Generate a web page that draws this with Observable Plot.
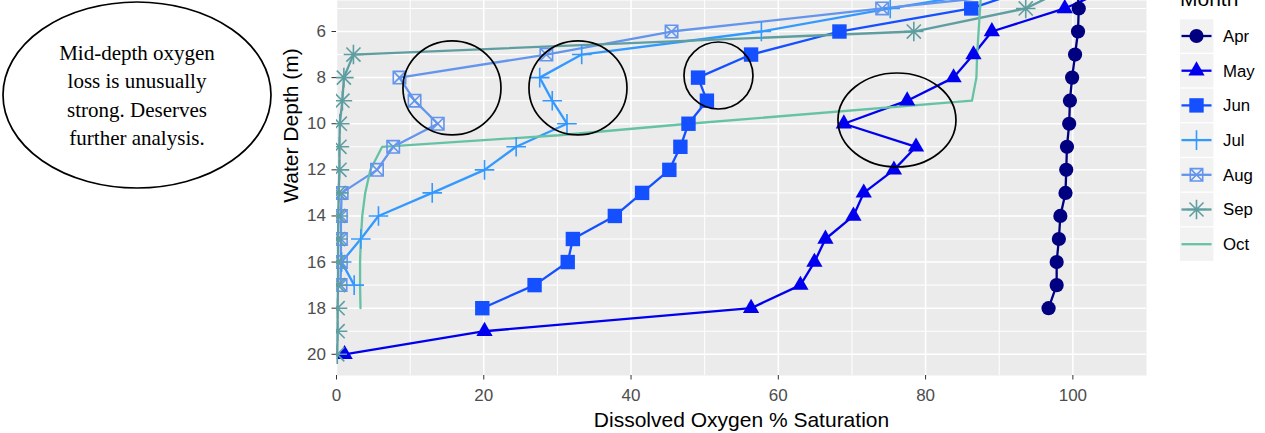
<!DOCTYPE html>
<html><head><meta charset="utf-8">
<script src="https://cdn.jsdelivr.net/npm/d3@7"></script>
<script src="https://cdn.jsdelivr.net/npm/@observablehq/plot@0.6"></script>
<style>body{margin:0;background:#fff}#chart svg{display:block}</style>
</head><body><div id="chart"></div>
<script>
// ---- data ----
const months = ["Apr","May","Jun","Jul","Aug","Sep","Oct"];
const monthColors = ["#000080","#0000EE","#1450FF","#3399FF","#6495ED","#5F9EA0","#66C2A5"];

const aprDepth = [4,5,6,7,8,9,10,11,12,13,14,15,16,17,18];
const aprDO    = [100.6,100.8,100.7,100.3,99.9,99.6,99.5,99.2,99.1,99.0,98.3,98.1,97.8,97.8,96.7];

const mayDepth = [4,5,6,7,8,9,10,11,12,13,14,15,16,17,18,19,20];
const mayDO    = [106,98.9,89.0,86.5,83.8,77.5,68.9,78.7,75.7,71.6,70.2,66.4,64.9,63.0,56.3,20.1,1.1];

const junDepth = [4,5,6,7,8,9,10,11,12,13,14,15,16,17,18];
const junDO    = [95.5,86.2,68.3,56.3,49.1,50.3,47.8,46.7,45.2,41.5,37.8,32.1,31.4,26.9,19.8];

const julDepth = [4,5,6,7,8,9,10,11,12,13,14,15,16,17];
const julDO    = [94,75.2,57.7,33.3,27.6,29.3,31.3,24.4,20.1,13.0,5.7,3.3,0.7,2.4];

const augDepth = [4,5,6,7,8,9,10,11,12,13,14,15,16,17];
const augDO    = [104,74.1,45.5,28.5,8.55,10.6,13.75,7.7,5.5,0.7,0.6,0.6,0.6,0.55];

const sepDepth = [4,5,6,7,8,9,10,11,12,13,14,15,16,17,18,19,20];
const sepDO    = [100,93.6,78.4,2.3,1.0,0.8,0.45,0.4,0.4,0.3,0.25,0.2,0.2,0.2,0.15,0.15,0.1];

const octDepth = [4,5,6,7,8,9,10,10.5,11,12,13,14,15,16,17,18];
const octDO    = [87.6,87.4,87.2,87.0,86.9,86.3,47.8,30.2,6.2,4.6,3.9,3.5,3.3,3.2,3.2,3.26];

const xTicks = [0,20,40,60,80,100];
const xMinor = [10,30,50,70,90];
const yTicks = [6,8,10,12,14,16,18,20];
const yMinor = [5,7,9,11,13,15,17,19];

const xTitle = "Dissolved Oxygen % Saturation";
const yTitle = "Water Depth (m)";
const legendTitle = "Month";
const noteLines = ["Mid-depth oxygen","loss is unusually","strong. Deserves","further analysis."];

// ---- table ----
const series = [
  {month:"Apr", depth:aprDepth, value:aprDO},
  {month:"May", depth:mayDepth, value:mayDO},
  {month:"Jun", depth:junDepth, value:junDO},
  {month:"Jul", depth:julDepth, value:julDO},
  {month:"Aug", depth:augDepth, value:augDO},
  {month:"Sep", depth:sepDepth, value:sepDO},
  {month:"Oct", depth:octDepth, value:octDO}
];
const rows = series.flatMap(s => s.depth.map((d,i) => ({month:s.month, depth:d, value:s.value[i]})));

// ---- R-like symbols (r = radius / half extent) ----
const rr = s => Math.sqrt(s/Math.PI);
const symCircle = {draw(c,s){const r=rr(s); c.moveTo(r,0); c.arc(0,0,r,0,2*Math.PI); c.closePath();}};
const symTri = {draw(c,s){const r=rr(s); c.moveTo(0,-r); c.lineTo(r*0.866,r*0.5); c.lineTo(-r*0.866,r*0.5); c.closePath();}};
const symSq = {draw(c,s){const r=rr(s); c.moveTo(-r,-r); c.lineTo(r,-r); c.lineTo(r,r); c.lineTo(-r,r); c.closePath();}};
const symPlus = {draw(c,s){const r=rr(s); c.moveTo(-r,0); c.lineTo(r,0); c.moveTo(0,-r); c.lineTo(0,r);}};
const symBoxX = {draw(c,s){const r=rr(s); c.moveTo(-r,-r); c.lineTo(r,-r); c.lineTo(r,r); c.lineTo(-r,r); c.closePath(); c.moveTo(-r,-r); c.lineTo(r,r); c.moveTo(r,-r); c.lineTo(-r,r);}};
const symAst = {draw(c,s){const r=rr(s), q=r*0.72; c.moveTo(-r,0); c.lineTo(r,0); c.moveTo(0,-r); c.lineTo(0,r); c.moveTo(-q,-q); c.lineTo(q,q); c.moveTo(q,-q); c.lineTo(-q,q);}};

const shapeSpec = {
  Apr:{symbol:symCircle, r:7.1, filled:true},
  May:{symbol:symTri, r:9.4, filled:true},
  Jun:{symbol:symSq, r:7.2, filled:true},
  Jul:{symbol:symPlus, r:9.8, filled:false},
  Aug:{symbol:symBoxX, r:6.2, filled:false},
  Sep:{symbol:symAst, r:9.8, filled:false}
};

const W = 1265, H = 433;
const mL = 336, mR = 119, mT = 0, mB = 58;

const dotMarks = Object.entries(shapeSpec).map(([m,sp]) => sp.filled
  ? Plot.dot(rows, {filter:d=>d.month===m, x:"value", y:"depth", symbol:sp.symbol, r:sp.r, fill:"month", stroke:"none", clip:true})
  : Plot.dot(rows, {filter:d=>d.month===m, x:"value", y:"depth", symbol:sp.symbol, r:sp.r, fill:"none", stroke:"month", strokeWidth:1.6, clip:true}));

const plot = Plot.plot({
  width: W, height: H,
  marginLeft: mL, marginRight: mR, marginTop: mT, marginBottom: mB,
  style: {fontFamily:"'Liberation Sans', Arial, sans-serif", fontSize:"17px", background:"#fff", overflow:"visible"},
  x: {domain:[0,110], label:null},
  y: {domain:[4.655,20.92], reverse:true, label:null},
  color: {domain:months, range:monthColors},
  marks: [
    Plot.frame({fill:"#EBEBEB", stroke:"none"}),
    Plot.ruleX(xMinor, {stroke:"#fff", strokeWidth:1}),
    Plot.ruleY(yMinor, {stroke:"#fff", strokeWidth:1}),
    Plot.ruleX(xTicks, {stroke:"#fff", strokeWidth:1.5}),
    Plot.ruleY(yTicks, {stroke:"#fff", strokeWidth:1.5}),
    Plot.axisX(xTicks, {tickSize:4.5, tickPadding:9, stroke:"#333", fill:"#4D4D4D", label:null, tickFormat:d=>String(d)}),
    Plot.axisY(yTicks, {tickSize:4.5, tickPadding:6, stroke:"#333", fill:"#4D4D4D", label:null, tickFormat:d=>String(d)}),
    Plot.line(rows, {x:"value", y:"depth", z:"month", stroke:"month", strokeWidth:2.3, clip:true}),
    ...dotMarks,
    Plot.text([xTitle], {text:d=>d, frameAnchor:"bottom", lineAnchor:"middle", dy:45, fontSize:21, fill:"#000", textAnchor:"middle"}),
    Plot.text([yTitle], {text:d=>d, frameAnchor:"top-left", lineAnchor:"middle", dx:-45.7, dy:125, rotate:-90, fontSize:21, fill:"#000", textAnchor:"middle"})
  ]
});
document.getElementById("chart").appendChild(plot);

// ---- annotations ----
const svg = d3.select(plot);
const sx = plot.scale("x"), sy = plot.scale("y");
const rings = [
  {x:15.75, y:8.47, rx:49, ry:47},
  {x:32.86, y:8.47, rx:49, ry:47},
  {x:51.94, y:7.93, rx:34.5, ry:33.5},
  {x:76.18, y:9.86, rx:59, ry:47}
];
const ga = svg.append("g");
rings.forEach(e => ga.append("ellipse")
  .attr("cx", sx.apply(e.x)).attr("cy", sy.apply(e.y))
  .attr("rx", e.rx).attr("ry", e.ry)
  .attr("fill","none").attr("stroke","#000").attr("stroke-width",1.7));

ga.append("ellipse").attr("cx",137).attr("cy",95).attr("rx",134).attr("ry",93)
  .attr("fill","#fff").attr("stroke","#000").attr("stroke-width",1.7);
noteLines.forEach((t,i) => ga.append("text").text(t)
  .attr("x",137).attr("y",59.5 + i*28.5).attr("text-anchor","middle")
  .attr("font-family","'Liberation Serif','Times New Roman',serif").attr("font-size",21).attr("fill","#000"));

// ---- legend ----
const gl = svg.append("g").attr("text-anchor","start");
gl.append("text").text(legendTitle).attr("x",1180).attr("y",6).attr("text-anchor","start")
  .attr("font-family","'Liberation Sans', Arial, sans-serif").attr("font-size",21).attr("fill","#000");
months.forEach((m,i) => {
  const y0 = 19.3 + i*34.7, cy = y0 + 16.7, cx = 1196.5;
  gl.append("rect").attr("x",1180).attr("y",y0).attr("width",33.4).attr("height",33.4).attr("fill","#F2F2F2");
  gl.append("line").attr("x1",1181.5).attr("x2",1211.5).attr("y1",cy).attr("y2",cy)
    .attr("stroke",monthColors[i]).attr("stroke-width",2.3);
  const sp = shapeSpec[m];
  if (sp) {
    const p = d3.path(); sp.symbol.draw(p, sp.r*sp.r*Math.PI);
    gl.append("path").attr("d",p.toString()).attr("transform",`translate(${cx},${cy})`)
      .attr("fill", sp.filled ? monthColors[i] : "none")
      .attr("stroke", sp.filled ? "none" : monthColors[i]).attr("stroke-width",1.6);
  }
  gl.append("text").text(m).attr("x",1223).attr("y",cy).attr("dy","0.35em").attr("text-anchor","start")
    .attr("font-family","'Liberation Sans', Arial, sans-serif").attr("font-size",16.8).attr("fill","#000");
});
</script></body></html>
